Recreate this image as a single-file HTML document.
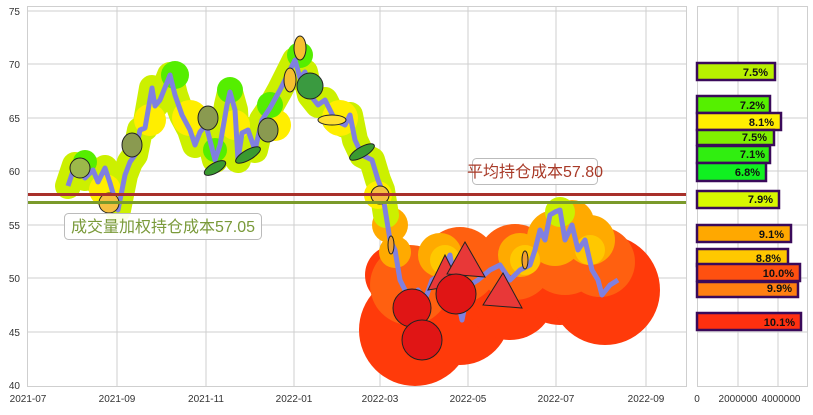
<!DOCTYPE html><html><head><meta charset="utf-8"><style>
body{margin:0;background:#fff;font-family:"Liberation Sans","Noto Sans CJK SC",sans-serif}
svg text{font-family:"Liberation Sans","Noto Sans CJK SC",sans-serif}
</style></head><body>
<svg width="813" height="410" xmlns="http://www.w3.org/2000/svg">
<rect width="813" height="410" fill="#fff"/>
<g stroke="#cfcfcf" stroke-width="1">
<rect x="27.5" y="6.5" width="659" height="380" fill="none"/>
<line x1="28" y1="11" x2="686" y2="11"/><line x1="28" y1="64" x2="686" y2="64"/><line x1="28" y1="118" x2="686" y2="118"/><line x1="28" y1="171" x2="686" y2="171"/><line x1="28" y1="225" x2="686" y2="225"/><line x1="28" y1="278" x2="686" y2="278"/><line x1="28" y1="332" x2="686" y2="332"/>
<line x1="117" y1="6" x2="117" y2="386"/><line x1="206" y1="6" x2="206" y2="386"/><line x1="294" y1="6" x2="294" y2="386"/><line x1="380" y1="6" x2="380" y2="386"/><line x1="468" y1="6" x2="468" y2="386"/><line x1="556" y1="6" x2="556" y2="386"/><line x1="646" y1="6" x2="646" y2="386"/>
<rect x="697.5" y="6.5" width="110" height="380" fill="none"/>
<line x1="738" y1="6" x2="738" y2="386"/><line x1="778" y1="6" x2="778" y2="386"/>
<line x1="697" y1="64" x2="807" y2="64"/><line x1="697" y1="118" x2="807" y2="118"/><line x1="697" y1="171" x2="807" y2="171"/><line x1="697" y1="225" x2="807" y2="225"/><line x1="697" y1="278" x2="807" y2="278"/><line x1="697" y1="332" x2="807" y2="332"/>
</g>
<g font-size="10" fill="#333" text-anchor="end">
<text x="20" y="15">75</text><text x="20" y="68">70</text><text x="20" y="122">65</text><text x="20" y="175">60</text><text x="20" y="229">55</text><text x="20" y="282">50</text><text x="20" y="336">45</text><text x="20" y="389">40</text></g>
<g font-size="10" fill="#333" text-anchor="middle">
<text x="28" y="402">2021-07</text><text x="117" y="402">2021-09</text><text x="206" y="402">2021-11</text><text x="294" y="402">2022-01</text><text x="380" y="402">2022-03</text><text x="468" y="402">2022-05</text><text x="556" y="402">2022-07</text><text x="646" y="402">2022-09</text>
<text x="697" y="402">0</text><text x="738" y="402">2000000</text><text x="781" y="402">4000000</text></g>
<!-- big blobs -->
<g fill="#ff3a0a">
<circle cx="415" cy="330" r="56"/><circle cx="460" cy="315" r="50"/><circle cx="510" cy="295" r="45"/><circle cx="560" cy="280" r="45"/><circle cx="605" cy="290" r="55"/><circle cx="395" cy="275" r="30"/>
</g>
<g fill="#ff6010">
<circle cx="410" cy="285" r="40"/><circle cx="460" cy="265" r="38"/><circle cx="515" cy="262" r="38"/><circle cx="565" cy="255" r="40"/><circle cx="600" cy="262" r="35"/>
</g>
<g fill="#ffaa00">
<circle cx="390" cy="225" r="18"/><circle cx="395" cy="252" r="16"/><circle cx="440" cy="255" r="22"/><circle cx="520" cy="255" r="22"/><circle cx="555" cy="238" r="28"/><circle cx="590" cy="240" r="25"/><circle cx="572" cy="222" r="22"/>
</g>
<g fill="#ffc800"><circle cx="445" cy="260" r="15"/><circle cx="590" cy="250" r="15"/><circle cx="525" cy="260" r="15"/></g>
<circle cx="560" cy="212" r="15" fill="#ccf000"/>
<polyline fill="none" stroke-linejoin="round" stroke-linecap="round" stroke="#ccf000" stroke-width="26" points="68,186 75,165 85,178 93,170 98,182 105,168 110,183 118,210 125,175 130,162 135,155 140,130 145,128 152,88 155,106 160,100 170,75 175,95 182,115 190,130 195,145 200,132 206,125 215,160 220,145 227,105 230,92 235,110 238,160 242,133 248,130 255,150 262,120 270,108 280,90 290,70 295,60 300,78 305,72 310,95 318,105 325,100 330,110 335,120 345,125 350,115 355,140 362,155 372,160 378,180 382,190 386,215"/>
<g fill="#ffee00"><circle cx="150" cy="120" r="16"/><circle cx="190" cy="118" r="18"/><circle cx="235" cy="125" r="15"/><circle cx="275" cy="125" r="16"/><circle cx="340" cy="118" r="18"/><circle cx="105" cy="190" r="16"/><circle cx="378" cy="195" r="14"/></g>
<g fill="#55ee00"><circle cx="175" cy="75" r="14"/><circle cx="85" cy="162" r="12"/><circle cx="230" cy="90" r="13"/><circle cx="270" cy="105" r="13"/><circle cx="300" cy="55" r="13"/><circle cx="215" cy="150" r="12"/></g>
<polyline fill="none" stroke-linejoin="round" stroke="#8080e0" stroke-width="5" points="68,186 75,165 85,178 93,170 98,182 105,168 110,183 118,210 125,175 130,162 135,155 140,130 145,128 152,88 155,106 160,100 170,75 175,95 182,115 190,130 195,145 200,132 206,125 215,160 220,145 227,105 230,92 235,110 238,160 242,133 248,130 255,150 262,120 270,108 280,90 290,70 295,60 300,78 305,72 310,95 318,105 325,100 330,110 335,120 345,125 350,115 355,140 362,155 372,160 378,180 382,190 386,215 390,240 395,250 400,280 405,290 410,300 418,290 425,300 432,280 440,275 450,255 458,300 462,320 465,305 470,285 478,280 490,270 500,265 510,280 520,270 530,265 535,250 540,230 545,240 550,215 555,212 560,210 565,240 572,225 578,250 585,240 592,270 598,280 602,295 610,285 618,280"/>
<!-- icons -->
<g stroke="#222" stroke-width="1">
<circle cx="80" cy="168" r="10" fill="#9cb84a"/><circle cx="109" cy="203" r="10" fill="#f5c040"/>
<ellipse cx="132" cy="145" rx="10" ry="12" fill="#8a9a50"/><ellipse cx="208" cy="118" rx="10" ry="12" fill="#8a9a50"/><ellipse cx="268" cy="130" rx="10" ry="12" fill="#8a9a50"/>
<ellipse cx="215" cy="168" rx="12" ry="5" fill="#3a9a30" transform="rotate(-30 215 168)"/><ellipse cx="248" cy="155" rx="14" ry="5" fill="#3a9a30" transform="rotate(-30 248 155)"/><ellipse cx="362" cy="152" rx="14" ry="5" fill="#3a9a30" transform="rotate(-30 362 152)"/>
<ellipse cx="300" cy="48" rx="6" ry="12" fill="#f5c030"/><ellipse cx="290" cy="80" rx="6" ry="12" fill="#f5c030"/>
<circle cx="310" cy="86" r="13" fill="#3a9a40"/>
<ellipse cx="332" cy="120" rx="14" ry="5" fill="#ffe030"/>
<circle cx="380" cy="195" r="9" fill="#f5c040"/>
<ellipse cx="391" cy="245" rx="3" ry="9" fill="#f0a030"/><ellipse cx="525" cy="260" rx="3" ry="9" fill="#f0a030"/>
<path d="M428 290 L445 255 L460 285Z" fill="#e83838"/>
<path d="M447 274 L465 242 L485 277Z" fill="#e83838"/>
<path d="M483 305 L503 273 L522 308Z" fill="#e83838"/>
<circle cx="412" cy="308" r="19" fill="#e01515"/><circle cx="422" cy="340" r="20" fill="#e01515"/><circle cx="456" cy="294" r="20" fill="#e01515"/>
</g>
<line x1="28" y1="194.5" x2="686" y2="194.5" stroke="#a8302a" stroke-width="3"/>
<line x1="28" y1="202.5" x2="686" y2="202.5" stroke="#7a9a2a" stroke-width="3"/>
<rect x="472.5" y="158.5" width="125" height="26" rx="4" fill="#fff" fill-opacity="0.9" stroke="#bbb"/>
<text x="535" y="177" font-size="16" fill="#a83a28" text-anchor="middle">平均持仓成本57.80</text>
<rect x="64.5" y="213.5" width="197" height="26" rx="4" fill="#fff" fill-opacity="0.9" stroke="#bbb"/>
<text x="163" y="232" font-size="16" fill="#7a9a3a" text-anchor="middle">成交量加权持仓成本57.05</text>
<!-- bars -->
<g stroke="#3a0a5a" stroke-width="2.5">
<rect x="697" y="63" width="78" height="17" fill="#b8f000"/>
<rect x="697" y="96" width="73" height="17" fill="#55f000"/>
<rect x="697" y="113" width="84" height="17" fill="#ffee00"/>
<rect x="697" y="130" width="77" height="15" fill="#80f000"/>
<rect x="697" y="146" width="73" height="17" fill="#30ee10"/>
<rect x="697" y="163" width="69" height="18" fill="#10f020"/>
<rect x="697" y="191" width="82" height="17" fill="#d8f800"/>
<rect x="697" y="225" width="94" height="17" fill="#ffa800"/>
<rect x="697" y="249" width="91" height="17" fill="#ffc800"/>
<rect x="697" y="264" width="103" height="17" fill="#ff5010"/>
<rect x="697" y="282" width="101" height="15" fill="#ff8010"/>
<rect x="697" y="313" width="104" height="17" fill="#ff3010"/>
</g>
<g font-size="11" font-weight="bold" fill="#111" text-anchor="end">
<text x="768" y="76">7.5%</text><text x="765" y="109">7.2%</text><text x="774" y="126">8.1%</text><text x="767" y="141">7.5%</text><text x="765" y="158">7.1%</text><text x="760" y="176">6.8%</text><text x="773" y="203">7.9%</text><text x="784" y="238">9.1%</text><text x="781" y="262">8.8%</text><text x="794" y="277">10.0%</text><text x="792" y="292">9.9%</text><text x="795" y="326">10.1%</text>
</g>
</svg>
</body></html>
